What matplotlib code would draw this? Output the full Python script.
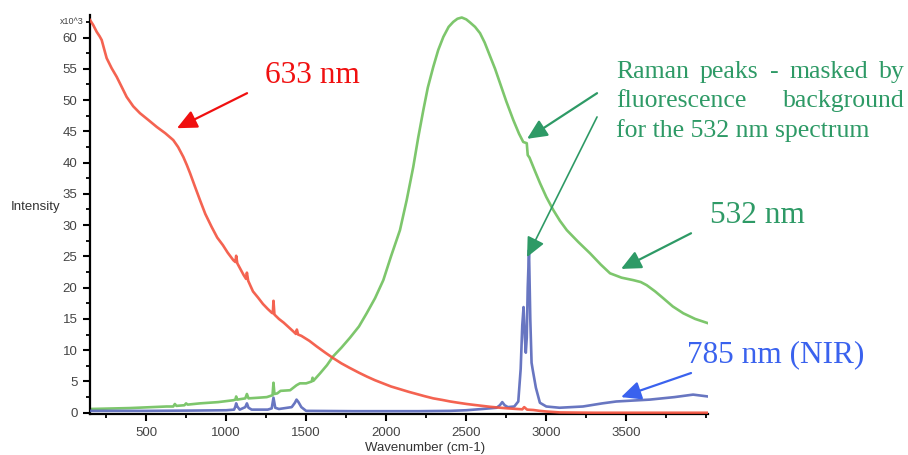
import matplotlib
matplotlib.use("Agg")
import matplotlib.pyplot as plt
from matplotlib.ticker import MultipleLocator

# 633 nm spectrum (wavenumber, intensity x10^3)
red_wn = [150, 170, 192, 210, 223, 240, 254, 285, 317, 350, 379, 420, 462, 515,
          567, 620, 670, 700, 733, 755, 775, 805, 837, 870, 910, 945, 980, 1010,
          1045, 1058, 1063, 1070, 1110, 1125, 1130, 1138, 1168, 1200, 1230, 1260,
          1285, 1292, 1296, 1302, 1330, 1360, 1390, 1420, 1436, 1442, 1450, 1470,
          1520, 1566, 1620, 1668, 1720, 1770, 1830, 1878, 1930, 1980, 2030, 2086,
          2140, 2190, 2240, 2294, 2350, 2400, 2450, 2503, 2550, 2600, 2650, 2711,
          2760, 2820, 2850, 2862, 2880, 2919, 2960, 3000, 3085, 3300, 3600, 4010]
red_val = [62.8, 62.0, 60.9, 60.2, 59.6, 58.0, 56.7, 55.1, 53.7, 52.0, 50.5, 49.0,
           47.9, 46.8, 45.7, 44.7, 43.6, 42.5, 40.9, 39.6, 38.3, 36.2, 34.0, 31.8,
           29.7, 28.0, 26.8, 25.6, 24.4, 24.1, 25.1, 23.9, 22.0, 21.4, 22.4, 21.1,
           19.4, 18.4, 17.4, 16.6, 16.0, 15.9, 17.9, 15.7, 15.0, 14.4, 13.7, 13.0,
           12.6, 13.3, 12.5, 12.3, 11.5, 10.6, 9.6, 8.75, 7.9, 7.2, 6.4, 5.8, 5.2,
           4.7, 4.2, 3.77, 3.35, 3.0, 2.65, 2.3, 2.05, 1.8, 1.6, 1.4, 1.25, 1.1,
           0.95, 0.8, 0.7, 0.6, 0.55, 0.9, 0.5, 0.44, 0.3, 0.2, 0.05, 0.0, 0.0, 0.0]

# 532 nm spectrum
green_wn = [150, 400, 629, 670, 680, 690, 740, 750, 760, 837, 950, 1045, 1058, 1063,
            1070, 1120, 1130, 1140, 1200, 1254, 1290, 1296, 1302, 1320, 1340, 1400,
            1420, 1440, 1461, 1500, 1535, 1540, 1545, 1587, 1630, 1668, 1720, 1774,
            1830, 1878, 1930, 1982, 2030, 2086, 2128, 2169, 2200, 2232, 2260, 2294,
            2325, 2357, 2390, 2419, 2445, 2472, 2500, 2524, 2555, 2586, 2615, 2649,
            2680, 2711, 2750, 2794, 2830, 2856, 2878, 2884, 2895, 2930, 2961, 3000,
            3044, 3085, 3128, 3200, 3273, 3340, 3398, 3470, 3544, 3590, 3627, 3680,
            3731, 3790, 3856, 3930, 4012]
green_val = [0.6, 0.75, 1.0, 1.0, 1.4, 1.1, 1.2, 1.5, 1.3, 1.5, 1.7, 2.0, 2.1, 2.6,
             2.1, 2.3, 3.0, 2.3, 2.4, 2.5, 2.8, 4.8, 3.0, 3.1, 3.5, 3.6, 4.0, 4.4,
             4.7, 4.7, 5.0, 5.6, 5.1, 6.3, 7.6, 9.0, 10.4, 12.0, 13.8, 15.9, 18.3,
             21.2, 25.0, 29.2, 34.0, 39.3, 44.0, 48.4, 52.0, 55.3, 58.0, 60.1, 61.7,
             62.5, 63.0, 63.2, 62.9, 62.4, 61.7, 60.7, 59.2, 57.0, 55.0, 52.7, 49.8,
             46.8, 44.6, 43.3, 43.1, 41.2, 40.8, 38.6, 36.7, 34.5, 32.4, 30.7, 29.2,
             27.3, 25.5, 23.7, 22.3, 21.6, 21.2, 20.9, 20.4, 19.4, 18.3, 17.0, 15.9,
             15.0, 14.3]

# 785 nm (NIR) spectrum
blue_wn = [150, 500, 800, 1000, 1050, 1058, 1063, 1070, 1085, 1120, 1130, 1140,
           1160, 1260, 1285, 1296, 1307, 1330, 1410, 1430, 1440, 1452, 1470, 1500,
           1800, 2200, 2400, 2500, 2600, 2690, 2710, 2725, 2740, 2760, 2800, 2825,
           2840, 2850, 2858, 2866, 2872, 2878, 2884, 2892, 2900, 2908, 2915, 2935,
           2960, 3000, 3083, 3229, 3350, 3437, 3646, 3800, 3917, 4010]
blue_val = [0.3, 0.3, 0.35, 0.4, 0.5, 1.0, 1.5, 1.0, 0.5, 0.9, 1.5, 0.8, 0.5, 0.5,
            0.7, 2.4, 0.8, 0.6, 0.9, 1.6, 2.1, 1.7, 0.9, 0.3, 0.25, 0.25, 0.3, 0.4,
            0.6, 0.8, 1.2, 1.7, 1.2, 0.9, 1.0, 1.8, 7.0, 14.0, 16.9, 12.0, 9.6, 12.0,
            20.0, 26.0, 15.0, 8.0, 6.9, 4.0, 1.6, 1.0, 0.8, 1.0, 1.5, 1.8, 2.1, 2.5,
            2.9, 2.6]

x_ticks = [500, 1000, 1500, 2000, 2500, 3000, 3500]
y_ticks = [0, 5, 10, 15, 20, 25, 30, 35, 40, 45, 50, 55, 60]

fig = plt.figure(figsize=(9.08, 4.55), dpi=100)
ax = fig.add_axes([90 / 908, 41 / 455, 618 / 908, 399 / 455])

ax.plot(green_wn, green_val, color="#6fc05c", lw=1.9, alpha=0.9, zorder=2)
ax.plot(blue_wn, blue_val, color="#5867bb", lw=1.9, alpha=0.9, zorder=3)
ax.plot(red_wn, red_val, color="#f3523e", lw=1.9, alpha=0.9, zorder=4)

ax.set_xlim(150, 4010)
ax.set_ylim(-0.2, 63.6)
for s in ["top", "right"]:
    ax.spines[s].set_visible(False)
for s in ["left", "bottom"]:
    ax.spines[s].set_linewidth(1.6)

ax.set_xticks(x_ticks)
ax.set_yticks(y_ticks)
ax.xaxis.set_minor_locator(MultipleLocator(250))
ax.yaxis.set_minor_locator(MultipleLocator(2.5))
ax.tick_params(axis="both", which="major", direction="out", length=5, width=1.5,
               labelsize=9.5, labelcolor="#444444", pad=4)
ax.tick_params(axis="both", which="minor", direction="out", length=3, width=1.3)
for lab in ax.get_xticklabels() + ax.get_yticklabels():
    lab.set_family("Liberation Sans")

sans = "Liberation Sans"
serif = "Liberation Serif"
fig.text(36 / 908, 1 - 207 / 455, "Intensity", ha="center", va="center",
         fontsize=9.5, color="#333333", family=sans)
fig.text(425 / 908, 1 - 448 / 455, "Wavenumber (cm-1)", ha="center", va="center",
         fontsize=9.5, color="#333333", family=sans)
fig.text(84 / 908, 1 - 22 / 455, "x10^3", ha="right", va="center",
         fontsize=6.5, color="#444444", family=sans)

red_c = "#f01010"
green_c = "#2e9a66"
blue_c = "#3a62ee"
aprops = dict(arrowstyle="-|>,head_length=0.6,head_width=0.28", lw=1.6,
              mutation_scale=20, shrinkA=0, shrinkB=0)

# 633 nm
ax.text(1243, 54.0, "633 nm", fontsize=22.5, color=red_c, family=serif,
        ha="left", va="center", clip_on=False)
ax.annotate("", xy=(693, 45.5), xytext=(1131, 51.1), annotation_clip=False,
            arrowprops=dict(color=red_c, **aprops))

# Raman peaks note, justified like the source
fig.canvas.draw()
rend = fig.canvas.get_renderer()


def justify(words, x0, x1, y, **kw):
    texts = [ax.text(x0, y, w, ha="left", va="center", clip_on=False, **kw) for w in words]
    widths = [t.get_window_extent(rend).width for t in texts]
    d0 = ax.transData.transform((x0, y))[0]
    d1 = ax.transData.transform((x1, y))[0]
    gap = (d1 - d0 - sum(widths)) / (len(words) - 1)
    pos = d0
    inv = ax.transData.inverted()
    for t, w in zip(texts, widths):
        t.set_x(inv.transform((pos, 0))[0])
        pos += w + gap


note = dict(fontsize=18.5, color=green_c, family=serif)
justify(["Raman", "peaks", "-", "masked", "by"], 3435, 5240, 54.5, **note)
justify(["fluorescence", "background"], 3435, 5240, 49.85, **note)
ax.text(3435, 45.2, "for the 532 nm spectrum", ha="left", va="center",
        clip_on=False, **note)
ax.annotate("", xy=(2880, 43.8), xytext=(3317, 51.1), annotation_clip=False,
            arrowprops=dict(color=green_c, **aprops))
ax.annotate("", xy=(2880, 24.9), xytext=(3317, 47.3), annotation_clip=False,
            arrowprops=dict(arrowstyle="-|>,head_length=0.6,head_width=0.28",
                            lw=1.2, mutation_scale=20, shrinkA=0, shrinkB=0,
                            color=green_c))

# 532 nm
ax.text(4023, 31.6, "532 nm", fontsize=22.5, color=green_c, family=serif,
        ha="left", va="center", clip_on=False)
ax.annotate("", xy=(3467, 23.0), xytext=(3904, 28.7), annotation_clip=False,
            arrowprops=dict(color=green_c, **aprops))

# 785 nm
ax.text(3879, 9.2, "785 nm (NIR)", fontsize=22.5, color=blue_c, family=serif,
        ha="left", va="center", clip_on=False)
ax.annotate("", xy=(3467, 2.5), xytext=(3904, 6.35), annotation_clip=False,
            arrowprops=dict(color=blue_c, **aprops))

fig.savefig("out.png", dpi=100)
